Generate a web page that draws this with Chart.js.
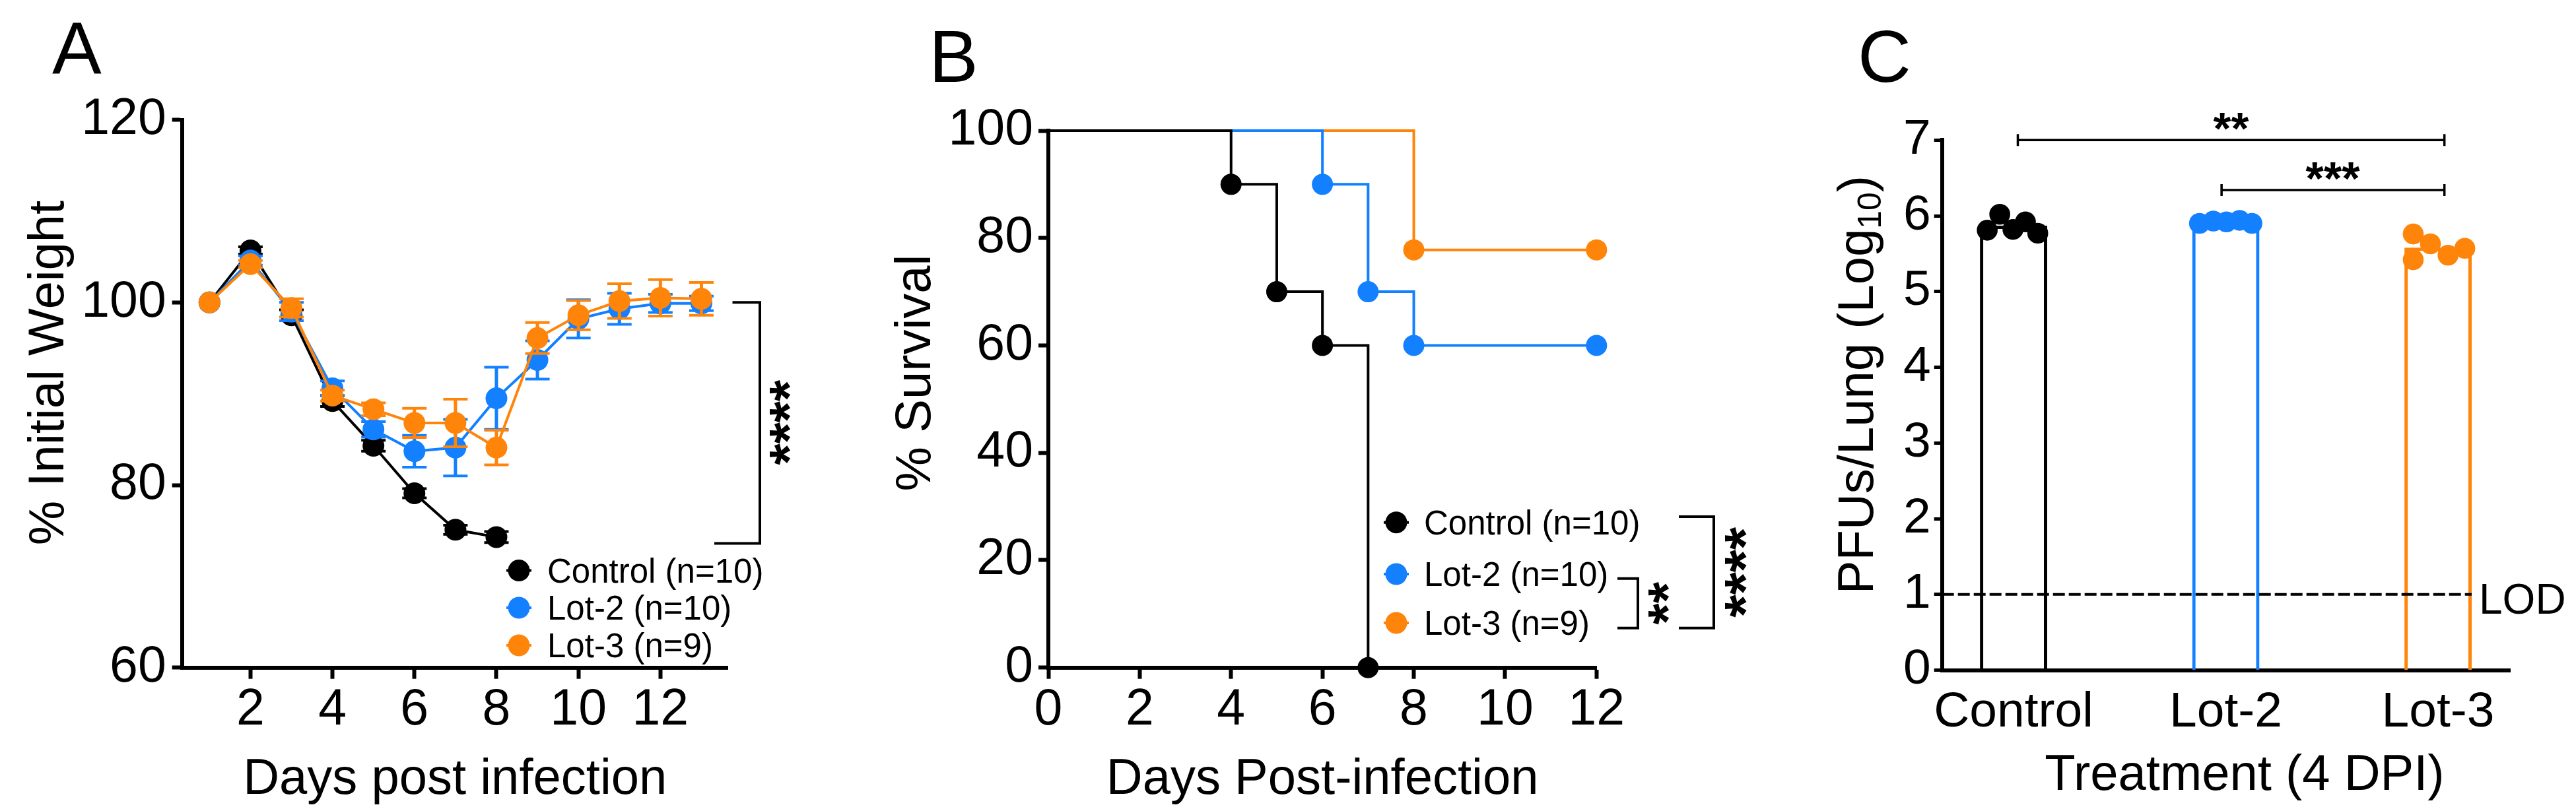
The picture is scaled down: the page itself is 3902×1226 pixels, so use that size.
<!DOCTYPE html>
<html>
<head>
<meta charset="utf-8">
<script src="https://cdn.jsdelivr.net/npm/chart.js@4.4.1/dist/chart.umd.min.js"></script>
<style>
  html, body { margin: 0; padding: 0; background: #fff; }
  #page { position: relative; width: 3902px; height: 1226px; overflow: hidden; background: #fff; }
  canvas { position: absolute; top: 0; }
</style>
</head>
<body>
<div id="page">
  <canvas id="chartA" width="1300" height="1226" style="left:0px"></canvas>
  <canvas id="chartB" width="1360" height="1226" style="left:1300px"></canvas>
  <canvas id="chartC" width="1302" height="1226" style="left:2600px"></canvas>
</div>
<script>
// ---- shared ----
const seriesLabels = ['Control (n=10)', 'Lot-2 (n=10)', 'Lot-3 (n=9)'];
const colors = ['#000000', '#1280ff', '#ff840a'];

// ---- A: body weight ----
const daysControl = [1, 2, 3, 4, 5, 6, 7, 8];
const daysLots = [1, 2, 3, 4, 5, 6, 7, 8, 9, 10, 11, 12, 13];
const weightControl = [100, 105.7, 98.6, 89.2, 84.3, 79.1, 75.1, 74.3];
const weightLot2 = [100, 104.6, 99.0, 90.6, 86.1, 83.7, 84.1, 89.5, 93.7, 98.2, 99.3, 99.9, 99.9];
const weightLot3 = [100, 104.2, 99.4, 89.8, 88.3, 86.8, 86.8, 84.1, 96.1, 98.6, 100.15, 100.5, 100.4];
const semControl = [0, 0.4, 0.6, 0.6, 0.6, 0.5, 0.5, 0.6];
const semLot2 = [0, 0.5, 1.0, 0.8, 0.85, 1.75, 3.1, 3.4, 2.1, 2.1, 1.7, 1.0, 0.8];
const semLot3 = [0, 0.4, 1.0, 0.6, 0.7, 1.6, 2.6, 1.9, 1.7, 1.6, 1.9, 2.0, 1.8];
const xTicksA = [2, 4, 6, 8, 10, 12];
const yTicksA = [60, 80, 100, 120];

// ---- B: survival ----
const survDaysControl = [0, 4, 5, 6, 7];
const survControl = [100, 90, 70, 60, 0];
const survDaysLot2 = [0, 6, 7, 8, 12];
const survLot2 = [100, 90, 70, 60, 60];
const survDaysLot3 = [0, 8, 12];
const survLot3 = [100, 77.8, 77.8];
const xTicksB = [0, 2, 4, 6, 8, 10, 12];
const yTicksB = [0, 20, 40, 60, 80, 100];

// ---- C: lung titers ----
const treatments = ['Control', 'Lot-2', 'Lot-3'];
const pfuMeans = [5.87, 5.92, 5.58];
const pfuControl = [5.81, 6.02, 5.82, 5.92, 5.77];
const pfuLot2 = [5.90, 5.93, 5.92, 5.94, 5.90];
const pfuLot3 = [5.76, 5.42, 5.63, 5.48, 5.57];
const jitterControl = [-0.124, -0.065, -0.003, 0.056, 0.114];
const jitterLot2 = [-0.124, -0.059, 0.003, 0.065, 0.123];
const jitterLot3 = [-0.117, -0.117, -0.036, 0.047, 0.126];
const yTicksC = [0, 1, 2, 3, 4, 5, 6, 7];
const lodValue = 1;
const compPairs = [[0.02, 2.03], [0.98, 2.03]];
const compLevels = [7.0, 6.34];
const compStars = ['**', '***'];

const FONT = '"Liberation Sans", Arial, Helvetica, sans-serif';
Chart.defaults.font.family = FONT;
Chart.defaults.color = '#000';

function pts(xs, ys) {
  return xs.map((x, i) => ({ x: x, y: ys[i] }));
}

function linAxis(min, max, tickList, fitSize, horizontal, tickLen, tickWidth, pad, fontSize) {
  return {
    type: 'linear',
    min: min,
    max: max,
    offset: false,
    afterBuildTicks: s => { s.ticks = tickList.map(v => ({ value: v })); },
    afterFit: s => { if (horizontal) s.height = fitSize; else s.width = fitSize; },
    grid: { drawOnChartArea: false, offset: false, tickLength: tickLen, tickWidth: tickWidth, tickColor: '#000', drawTicks: tickLen > 0 },
    border: { display: true, width: 6, color: '#000' },
    ticks: { font: { size: fontSize }, color: '#000', padding: pad, maxRotation: 0, autoSkip: false }
  };
}

function text(c, s, x, y, size, align, weight) {
  c.font = (weight || '') + ' ' + size + 'px ' + FONT;
  c.textAlign = align || 'left';
  c.textBaseline = 'alphabetic';
  c.fillStyle = '#000';
  c.fillText(s, x, y);
}

function vText(c, s, x, y, size) {
  c.save();
  c.translate(x, y);
  c.rotate(-Math.PI / 2);
  text(c, s, 0, 0, size, 'center');
  c.restore();
}

// asterisks centred on (cx, cy), sized so that the ink is inkLen long
function stars(c, s, cx, cy, inkLen, rotate) {
  c.save();
  c.translate(cx, cy);
  if (rotate) c.rotate(-Math.PI / 2);
  c.font = 'bold 100px ' + FONT;
  let m = c.measureText(s);
  const size = 100 * inkLen / (m.actualBoundingBoxLeft + m.actualBoundingBoxRight);
  c.font = 'bold ' + size + 'px ' + FONT;
  c.textAlign = 'left';
  c.textBaseline = 'alphabetic';
  m = c.measureText(s);
  c.fillStyle = '#000';
  c.fillText(s, (m.actualBoundingBoxLeft - m.actualBoundingBoxRight) / 2,
    (m.actualBoundingBoxAscent - m.actualBoundingBoxDescent) / 2);
  c.restore();
}

function drawLegend(c, mx, rows, tx, size) {
  rows.forEach((y, i) => {
    c.strokeStyle = colors[i];
    c.lineWidth = 4;
    c.beginPath(); c.moveTo(mx - 19, y); c.lineTo(mx + 19, y); c.stroke();
    c.fillStyle = colors[i];
    c.beginPath(); c.arc(mx, y, 16.5, 0, Math.PI * 2); c.fill();
    text(c, seriesLabels[i], tx, y + 0.358 * size, size, 'left');
  });
}

function bracket(c, xIn, xOut, yTop, yBot, xInBot) {
  c.save();
  c.strokeStyle = '#000';
  c.lineWidth = 4;
  c.beginPath();
  c.moveTo(xIn, yTop); c.lineTo(xOut, yTop); c.lineTo(xOut, yBot); c.lineTo(xInBot, yBot);
  c.stroke();
  c.restore();
}

// error bars drawn just under each dataset's own line and markers
const errorBars = {
  id: 'errorBars',
  beforeDatasetDraw(chart, args) {
    const ds = chart.data.datasets[args.index];
    if (!ds.errors) return;
    const c = chart.ctx, y = chart.scales.y;
    c.save();
    c.strokeStyle = ds.borderColor;
    args.meta.data.forEach((p, i) => {
      const e = ds.errors[i];
      if (!e) return;
      const v = ds.data[i].y;
      const yt = y.getPixelForValue(v + e), yb = y.getPixelForValue(v - e);
      c.lineWidth = 5;
      c.beginPath(); c.moveTo(p.x, yt); c.lineTo(p.x, yb); c.stroke();
      c.lineWidth = 4;
      c.beginPath();
      c.moveTo(p.x - 18.5, yt); c.lineTo(p.x + 18.5, yt);
      c.moveTo(p.x - 18.5, yb); c.lineTo(p.x + 18.5, yb);
      c.stroke();
    });
    c.restore();
  }
};

// ================= A =================
const decorA = {
  id: 'decorA',
  afterDraw(chart) {
    const c = chart.ctx, a = chart.chartArea, y = chart.scales.y;
    text(c, 'A', 79, 111, 112, 'left');
    text(c, 'Days post infection', (a.left + a.right) / 2, 1203, 76, 'center');
    vText(c, '% Initial Weight', 96, 565, 76);
    drawLegend(c, 786, [864.6, 921, 978], 829, 51);
    bracket(c, 1109.5, 1151, y.getPixelForValue(100), y.getPixelForValue(73.6), 1082);
    stars(c, '****', 1182, 640, 129, true);
  }
};

new Chart(document.getElementById('chartA'), {
  type: 'line',
  data: {
    datasets: [
      { label: seriesLabels[0], data: pts(daysControl, weightControl), errors: semControl, order: 3 },
      { label: seriesLabels[1], data: pts(daysLots, weightLot2), errors: semLot2, order: 2 },
      { label: seriesLabels[2], data: pts(daysLots, weightLot3), errors: semLot3, order: 1 }
    ].map((d, i) => Object.assign(d, {
      borderColor: colors[i], backgroundColor: colors[i], pointBackgroundColor: colors[i],
      borderWidth: 4, pointRadius: 16.5, pointBorderWidth: 0, tension: 0, clip: false
    }))
  },
  options: {
    responsive: false, animation: false, devicePixelRatio: 1,
    layout: { padding: { top: 181.7, right: 197.2, left: 0, bottom: 0 } },
    plugins: { legend: { display: false }, tooltip: { enabled: false } },
    scales: {
      x: linAxis(0.33, 13.65, xTicksA, 214.3, true, 17, 6, 2, 77),
      y: linAxis(60, 120, yTicksA, 275.7, false, 15, 6, 9, 77)
    }
  },
  plugins: [errorBars, decorA]
});

// ================= B =================
const decorB = {
  id: 'decorB',
  afterDraw(chart) {
    const c = chart.ctx, a = chart.chartArea;
    text(c, 'B', 107, 124, 112, 'left');
    text(c, 'Days Post-infection', (a.left + a.right) / 2, 1203, 76, 'center');
    vText(c, '% Survival', 108.5, 565, 76);
    drawLegend(c, 815, [791.7, 870, 944], 857, 51);
    bracket(c, 1150, 1181, 876.7, 951.7, 1150);
    bracket(c, 1243, 1296, 783, 951.7, 1243);
    stars(c, '**', 1213, 914, 65, true);
    stars(c, '****', 1329, 867, 137, true);
  }
};

new Chart(document.getElementById('chartB'), {
  type: 'line',
  data: {
    datasets: [
      { label: seriesLabels[0], data: pts(survDaysControl, survControl), order: 1 },
      { label: seriesLabels[1], data: pts(survDaysLot2, survLot2), order: 2 },
      { label: seriesLabels[2], data: pts(survDaysLot3, survLot3), order: 3 }
    ].map((d, i) => Object.assign(d, {
      borderColor: colors[i], backgroundColor: colors[i], pointBackgroundColor: colors[i],
      borderWidth: 4, pointBorderWidth: 0, stepped: true, clip: false,
      pointRadius: ctx => (ctx.dataIndex === 0 ? 0 : 16)
    }))
  },
  options: {
    responsive: false, animation: false, devicePixelRatio: 1,
    layout: { padding: { top: 198, right: 241.7, left: 0, bottom: 0 } },
    plugins: { legend: { display: false }, tooltip: { enabled: false } },
    scales: {
      x: linAxis(0, 12, xTicksB, 214.3, true, 17, 6, 2, 77),
      y: linAxis(0, 100, yTicksB, 288, false, 15, 6, 8, 77)
    }
  },
  plugins: [decorB]
});

// ================= C =================
const decorC = {
  id: 'decorC',
  afterDatasetsDraw(chart) {
    const c = chart.ctx, a = chart.chartArea, y = chart.scales.y;
    const bar = chart.getDatasetMeta(3).data[2];
    const yl = y.getPixelForValue(lodValue);
    c.save();
    c.strokeStyle = '#000';
    c.lineWidth = 4;
    c.setLineDash([18, 6]);
    c.beginPath(); c.moveTo(a.left, yl); c.lineTo(bar.x + bar.width / 2, yl); c.stroke();
    c.restore();
    text(c, 'LOD', 1155, yl + 6 + 0.358 * 64, 64, 'left');
  },
  afterDraw(chart) {
    const c = chart.ctx, x = chart.scales.x, y = chart.scales.y;
    text(c, 'C', 214, 124, 112, 'left');
    text(c, 'Treatment (4 DPI)', 800, 1197, 76, 'center');
    // y title with subscript
    c.save();
    c.translate(236.5, 583);
    c.rotate(-Math.PI / 2);
    const s1 = 'PFUs/Lung (Log', s2 = '10', s3 = ')';
    c.font = '76px ' + FONT;
    const w1 = c.measureText(s1).width, w3 = c.measureText(s3).width;
    c.font = '50px ' + FONT;
    const w2 = c.measureText(s2).width;
    const x0 = -(w1 + w2 + w3) / 2;
    text(c, s1, x0, 0, 76, 'left');
    text(c, s2, x0 + w1, 12, 50, 'left');
    text(c, s3, x0 + w1 + w2, 0, 76, 'left');
    c.restore();
    // comparison bars
    compPairs.forEach((p, i) => {
      const x1 = x.getPixelForValue(p[0]), x2 = x.getPixelForValue(p[1]);
      const yy = y.getPixelForValue(compLevels[i]);
      c.save();
      c.strokeStyle = '#000';
      c.lineWidth = 3.5;
      c.beginPath();
      c.moveTo(x1, yy); c.lineTo(x2, yy);
      c.moveTo(x1, yy - 9); c.lineTo(x1, yy + 9);
      c.moveTo(x2, yy - 9); c.lineTo(x2, yy + 9);
      c.stroke();
      c.restore();
      stars(c, compStars[i], (x1 + x2) / 2, yy - 28.5, compStars[i].length === 2 ? 54 : 82, false);
    });
  }
};

const dotSets = [[pfuControl, jitterControl], [pfuLot2, jitterLot2], [pfuLot3, jitterLot3]];

new Chart(document.getElementById('chartC'), {
  type: 'bar',
  data: {
    datasets: dotSets.map((g, i) => ({
      type: 'scatter',
      label: treatments[i],
      data: g[0].map((v, k) => ({ x: i + g[1][k], y: v })),
      backgroundColor: colors[i],
      pointRadius: 15.8,
      pointBorderWidth: 0,
      showLine: false,
      clip: false
    })).concat([{
      type: 'bar',
      label: 'mean',
      data: pfuMeans.map((v, i) => ({ x: i, y: v })),
      backgroundColor: 'rgba(0,0,0,0)',
      borderColor: colors,
      borderWidth: 5,
      borderSkipped: 'start',
      categoryPercentage: 1,
      barPercentage: 0.317
    }])
  },
  options: {
    responsive: false, animation: false, devicePixelRatio: 1,
    layout: { padding: { top: 212.3, right: 99.3, left: 0, bottom: 0 } },
    plugins: { legend: { display: false }, tooltip: { enabled: false } },
    scales: {
      x: Object.assign(linAxis(-0.337, 2.341, [0, 1, 2], 210.5, true, 0, 6, 20, 75), {
        ticks: { font: { size: 75 }, color: '#000', padding: 20, maxRotation: 0, autoSkip: false,
          callback: v => treatments[v] }
      }),
      y: linAxis(0, 7, yTicksC, 341.7, false, 12, 5, 5, 75)
    }
  },
  plugins: [decorC]
});
</script>
</body>
</html>
